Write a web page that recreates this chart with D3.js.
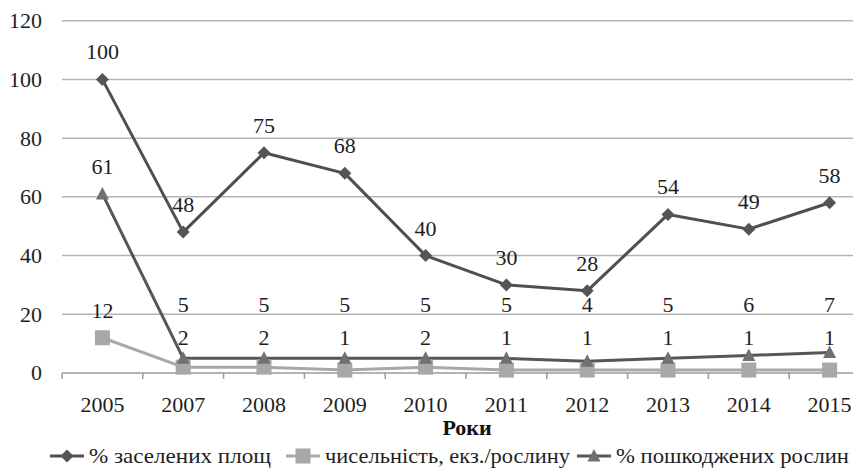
<!DOCTYPE html>
<html>
<head>
<meta charset="utf-8">
<script src="https://cdn.jsdelivr.net/npm/d3@7"></script>
</head>
<body style="margin:0">
<svg id="chart" width="853" height="468" font-family="Liberation Serif"></svg>
<script>
// Роки спостережень
const years = ["2005", "2007", "2008", "2009", "2010", "2011", "2012", "2013", "2014", "2015"];
// % заселених площ
const occupied = [100, 48, 75, 68, 40, 30, 28, 54, 49, 58];
// чисельність, екз./рослину
const density = [12, 2, 2, 1, 2, 1, 1, 1, 1, 1];
// % пошкоджених рослин
const damaged = [61, 5, 5, 5, 5, 5, 4, 5, 6, 7];
const yTicks = [0, 20, 40, 60, 80, 100, 120];

const FONT = "Liberation Serif";
const fontSize = 22;
const textColor = "#1e1e1e";

const svg = d3.select("#chart");
const plotLeft = 62, plotRight = 870, plotTop = 20.7, plotBottom = 373;

const x = d3.scaleBand().domain(years).range([plotLeft, plotRight]);
const y = d3.scaleLinear().domain([0, 120]).range([plotBottom, plotTop]);
const cx = d => x(d) + x.bandwidth() / 2;

const styleText = sel => sel
  .attr("font-family", FONT)
  .style("font-family", `"${FONT}", "Times New Roman", serif`, "important")
  .attr("font-size", fontSize)
  .attr("fill", textColor);

// горизонтальна сітка
svg.append("g")
  .selectAll("line")
  .data(yTicks.filter(t => t > 0))
  .join("line")
  .attr("x1", plotLeft).attr("x2", 853)
  .attr("y1", d => y(d)).attr("y2", d => y(d))
  .attr("stroke", "#b4b4b4").attr("stroke-width", 1.5);

// вісь Y (підписи малюються вручну з тих самих значень шкали)
svg.append("g").selectAll("text")
  .data(yTicks)
  .join("text")
  .attr("x", plotLeft - 20)
  .attr("y", d => y(d))
  .attr("dy", "0.34em")
  .attr("text-anchor", "end")
  .call(styleText)
  .text(d => d);

// вісь X
svg.append("line")
  .attr("x1", plotLeft).attr("x2", 853)
  .attr("y1", plotBottom).attr("y2", plotBottom)
  .attr("stroke", "#9a9a9a").attr("stroke-width", 1.5);
svg.append("g").selectAll("line")
  .data(years)
  .join("line")
  .attr("x1", d => x(d)).attr("x2", d => x(d))
  .attr("y1", plotBottom).attr("y2", plotBottom + 6)
  .attr("stroke", "#9a9a9a").attr("stroke-width", 1.5);
svg.append("g").selectAll("text")
  .data(years)
  .join("text")
  .attr("x", d => cx(d))
  .attr("y", plotBottom + 38.5)
  .attr("text-anchor", "middle")
  .call(styleText)
  .text(d => d);

// назва осі X
svg.append("text")
  .attr("x", 467).attr("y", 435)
  .attr("text-anchor", "middle")
  .call(styleText)
  .attr("font-weight", "bold").attr("fill", "#111")
  .text("Роки");

const line = d3.line().x((d, i) => cx(years[i])).y(d => y(d));

const series = [
  { name: "% заселених площ", values: occupied, line: "#4f4f4f", fill: "#555", marker: "diamond" },
  { name: "чисельність, екз./рослину", values: density, line: "#a8a8a8", fill: "#a8a8a8", marker: "square" },
  { name: "% пошкоджених рослин", values: damaged, line: "#565656", fill: "#707070", marker: "triangle" }
];

// маркери: ромб, квадрат, трикутник
const markerPath = {
  diamond: "M0,-6.5L6.5,0L0,6.5L-6.5,0Z",
  square: "M-7.5,-7.5H7.5V7.5H-7.5Z",
  triangle: "M0,-7L6.5,5.5H-6.5Z"
};

// лінії — спершу світла, потім темніші
[1, 2, 0].forEach(si => {
  const s = series[si];
  svg.append("path")
    .datum(s.values)
    .attr("d", line)
    .attr("fill", "none")
    .attr("stroke", s.line)
    .attr("stroke-width", 3)
    .attr("stroke-linejoin", "round");
});

[1, 2, 0].forEach(si => {
  const s = series[si];
  svg.append("g").selectAll("path")
    .data(s.values)
    .join("path")
    .attr("d", markerPath[s.marker])
    .attr("transform", (d, i) => `translate(${cx(years[i])},${y(d)})`)
    .attr("fill", s.fill);
});

// підписи значень; малі значення винесено в окремі ряди над лініями
function labelY(si, v) {
  if (si === 2 && v < 15) return y(20.7);
  if (si === 1 && v < 5) return y(9.5);
  return y(v) - 20;
}
series.forEach((s, si) => {
  svg.append("g").selectAll("text")
    .data(s.values)
    .join("text")
    .attr("x", (d, i) => cx(years[i]))
    .attr("y", d => labelY(si, d))
    .attr("text-anchor", "middle")
    .call(styleText)
    .text(d => d);
});

// легенда
const legendItems = [
  { x: 50, s: series[0], w: 182 },
  { x: 286, s: series[1], w: 245 },
  { x: 577, s: series[2], w: 233 }
];
const ly = 456;
legendItems.forEach(({ x: lx, s, w }) => {
  const g = svg.append("g");
  g.append("line")
    .attr("x1", lx).attr("x2", lx + 34)
    .attr("y1", ly).attr("y2", ly)
    .attr("stroke", s.line).attr("stroke-width", 3);
  g.append("path")
    .attr("d", markerPath[s.marker])
    .attr("transform", `translate(${lx + 17},${ly})`)
    .attr("fill", s.fill);
  g.append("text")
    .attr("x", lx + 39).attr("y", ly + 7)
    .call(styleText)
    .attr("textLength", w)
    .attr("lengthAdjust", "spacingAndGlyphs")
    .text(s.name);
});
</script>
<style>
  svg text { font-family: "Liberation Serif", "Times New Roman", serif !important; }
</style>
</body>
</html>
